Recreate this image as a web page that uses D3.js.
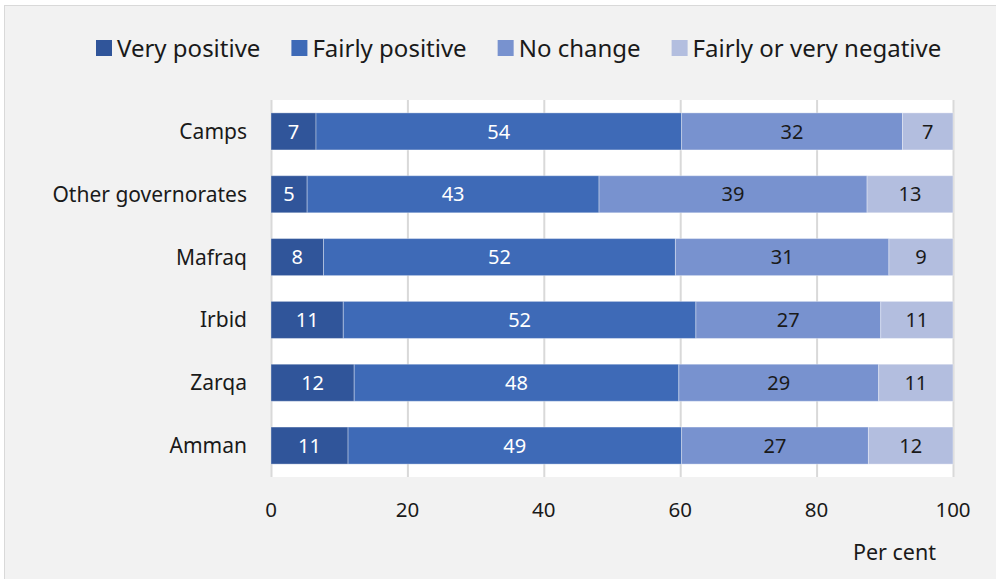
<!DOCTYPE html>
<html>
<head>
<meta charset="utf-8">
<script src="https://cdn.jsdelivr.net/npm/d3@7"></script>
<style>
  body { margin: 0; background: #ffffff; }
  svg { display: block; font-family: "Noto Sans", sans-serif; }
</style>
</head>
<body>
<div id="chart"></div>
<script>
// Regions, top to bottom
const regions = ["Camps", "Other governorates", "Mafraq", "Irbid", "Zarqa", "Amman"];
const seriesNames = ["Very positive", "Fairly positive", "No change", "Fairly or very negative"];

// values in per cent (labels are rounded)
const veryPositive   = [6.6, 5.3, 7.7, 10.6, 12.2, 11.3];
const fairlyPositive = [53.6, 42.8, 51.6, 51.7, 47.6, 48.9];
const noChange       = [32.4, 39.3, 31.3, 27.1, 29.3, 27.4];
const negative       = [7.4, 12.6, 9.4, 10.6, 10.9, 12.4];

const xTicks = [0, 20, 40, 60, 80, 100];

const colors = ["#30559a", "#3e6ab7", "#7892cf", "#b3bedf"];
const labelColors = ["#ffffff", "#ffffff", "#1a1a1a", "#1a1a1a"];

const width = 996, height = 579;

const table = regions.map((r, i) => ({
  region: r,
  "Very positive": veryPositive[i],
  "Fairly positive": fairlyPositive[i],
  "No change": noChange[i],
  "Fairly or very negative": negative[i]
}));

const stacked = d3.stack().keys(seriesNames)(table);

const svg = d3.select("#chart").append("svg")
  .attr("width", width)
  .attr("height", height);

// outer frame
svg.append("rect")
  .attr("x", 4.5).attr("y", 5.5)
  .attr("width", 1000).attr("height", 600)
  .attr("fill", "#f2f2f2")
  .attr("stroke", "#d9d9d9");

const x = d3.scaleLinear().domain([0, 100]).range([271, 953]);
const y = d3.scaleBand().domain(regions).range([100, 477])
  .paddingInner(0.41).paddingOuter(0.205);

// plot area
svg.append("rect")
  .attr("x", x(0)).attr("y", 100)
  .attr("width", x(100) - x(0)).attr("height", 377)
  .attr("fill", "#ffffff");

// gridlines
svg.append("g")
  .selectAll("line")
  .data(xTicks)
  .join("line")
  .attr("x1", d => x(d) + 0.5).attr("x2", d => x(d) + 0.5)
  .attr("y1", 100).attr("y2", 477)
  .attr("stroke", "#d9d9d9")
  .attr("stroke-width", 2);

// bars
const groups = svg.append("g")
  .selectAll("g")
  .data(stacked)
  .join("g")
  .attr("fill", (d, i) => colors[i]);

groups.selectAll("rect")
  .data(d => d)
  .join("rect")
  .attr("x", d => x(d[0]))
  .attr("y", d => y(d.data.region))
  .attr("width", d => x(d[1]) - x(d[0]))
  .attr("height", y.bandwidth())
  .attr("stroke", "#ffffff")
  .attr("stroke-opacity", 0.35)
  .attr("stroke-width", 1);

// value labels
svg.append("g")
  .attr("text-anchor", "middle")
  .attr("font-size", 20)
  .selectAll("g")
  .data(stacked)
  .join("g")
  .attr("fill", (d, i) => labelColors[i])
  .selectAll("text")
  .data(d => d)
  .join("text")
  .attr("x", d => (x(d[0]) + x(d[1])) / 2)
  .attr("y", d => y(d.data.region) + y.bandwidth() / 2)
  .attr("dy", "0.36em")
  .text(d => Math.round(d[1] - d[0]));

// category labels
svg.append("g")
  .attr("text-anchor", "end")
  .attr("font-size", 21)
  .attr("fill", "#1a1a1a")
  .selectAll("text")
  .data(regions)
  .join("text")
  .attr("x", 247)
  .attr("y", d => y(d) + y.bandwidth() / 2)
  .attr("dy", "0.36em")
  .text(d => d);

// x tick labels
svg.append("g")
  .attr("text-anchor", "middle")
  .attr("font-size", 20.5)
  .attr("fill", "#1a1a1a")
  .selectAll("text")
  .data(xTicks)
  .join("text")
  .attr("x", d => x(d))
  .attr("y", 517)
  .text(d => d);

svg.append("text")
  .attr("x", 936).attr("y", 560)
  .attr("text-anchor", "end")
  .attr("font-size", 21.5)
  .attr("fill", "#1a1a1a")
  .text("Per cent");

// legend
const legend = svg.append("g").attr("font-size", 24).attr("fill", "#1a1a1a");
let lx = 96;
seriesNames.forEach((name, i) => {
  legend.append("rect")
    .attr("x", lx).attr("y", 40)
    .attr("width", 16).attr("height", 16)
    .attr("fill", colors[i]);
  const t = legend.append("text")
    .attr("x", lx + 21).attr("y", 48)
    .attr("dy", "0.36em")
    .text(name);
  lx += 21 + t.node().getComputedTextLength() + 31;
});
</script>
</body>
</html>
